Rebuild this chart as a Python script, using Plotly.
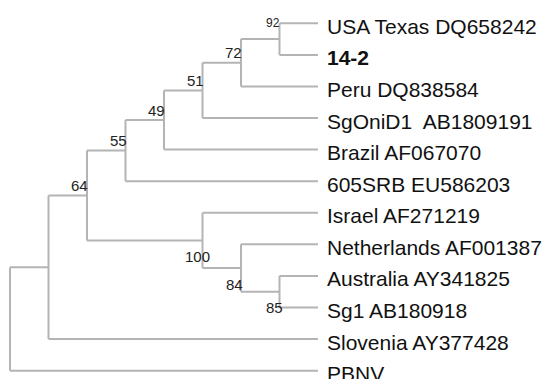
import plotly.graph_objects as go

# ---- data ----
taxa = [
    "USA Texas DQ658242", "14-2", "Peru DQ838584", "SgOniD1  AB1809191",
    "Brazil AF067070", "605SRB EU586203", "Israel AF271219",
    "Netherlands AF001387", "Australia AY341825", "Sg1 AB180918",
    "Slovenia AY377428", "PBNV",
]
# topology as nested tuples of taxon indices
topology = ((((((((0, 1), 2), 3), 4), 5), (6, (7, (8, 9)))), 10), 11)
# bootstrap values of internal nodes in post-order (None = not shown)
bootstrap = [92, 72, 51, 49, 55, 85, 84, 100, 64, None, None]
bold_taxa = ["14-2"]

# ---- style ----
LINE_COLOR = "#b4b4b4"
label_shift = {92: (2, 16, 12), 100: (9, -16, 15), 84: (4, -16, 15), 85: (5, -16, 15)}
default_shift = (3, 10, 15)

# ---- layout computation ----
nodes = []  # post-order internal nodes


def height(n):
    if isinstance(n, int):
        return 0
    return 1 + max(height(c) for c in n)


H = height(topology)


def walk(n):
    """returns (x, y) of node"""
    if isinstance(n, int):
        return (H, n)
    kids = [walk(c) for c in n]
    x = H - height(n)
    y = (kids[0][1] + kids[-1][1]) / 2
    rec = {"x": x, "y": y, "kids": kids}
    nodes.append(rec)
    return (x, y)


walk(topology)
for rec, b in zip(nodes, bootstrap):
    rec["boot"] = b

xs, ys = [], []
for rec in nodes:
    ky = [k[1] for k in rec["kids"]]
    xs += [rec["x"], rec["x"], None]
    ys += [min(ky), max(ky), None]
    for kx, kyy in rec["kids"]:
        xs += [rec["x"], kx, None]
        ys += [kyy, kyy, None]

fig = go.Figure()
fig.add_trace(go.Scatter(x=xs, y=ys, mode="lines",
                         line=dict(color=LINE_COLOR, width=2),
                         hoverinfo="skip", showlegend=False))

annotations = []
for i, name in enumerate(taxa):
    txt = f"<b>{name}</b>" if name in bold_taxa else name
    annotations.append(dict(x=H, y=i, text=txt, showarrow=False,
                            xanchor="left", yanchor="middle", xshift=7, yshift=-3,
                            font=dict(family="Liberation Sans, Arial", size=21, color="#111111")))

for rec in nodes:
    b = rec["boot"]
    if b is None:
        continue
    dx, dy, fs = label_shift.get(b, default_shift)
    annotations.append(dict(x=rec["x"], y=rec["y"], text=str(b), showarrow=False,
                            xanchor="right", yanchor="middle", xshift=dx, yshift=dy,
                            font=dict(family="Liberation Sans, Arial", size=fs, color="#222222")))

PX_PER_LEVEL = 38.5
PX_PER_ROW = 31.58
W, Hpx = 542, 379
fig.update_layout(
    width=W, height=Hpx, margin=dict(l=0, r=0, t=0, b=0),
    plot_bgcolor="white", paper_bgcolor="white",
    annotations=annotations,
    xaxis=dict(range=[-10 / PX_PER_LEVEL, (W - 10) / PX_PER_LEVEL], visible=False, fixedrange=True),
    yaxis=dict(range=[(Hpx - 23.3) / PX_PER_ROW, -23.3 / PX_PER_ROW], visible=False, fixedrange=True),
)
fig.write_html("out.html", config={"displayModeBar": False},
               post_script="document.body.style.margin='0';document.body.style.overflow='hidden';")
